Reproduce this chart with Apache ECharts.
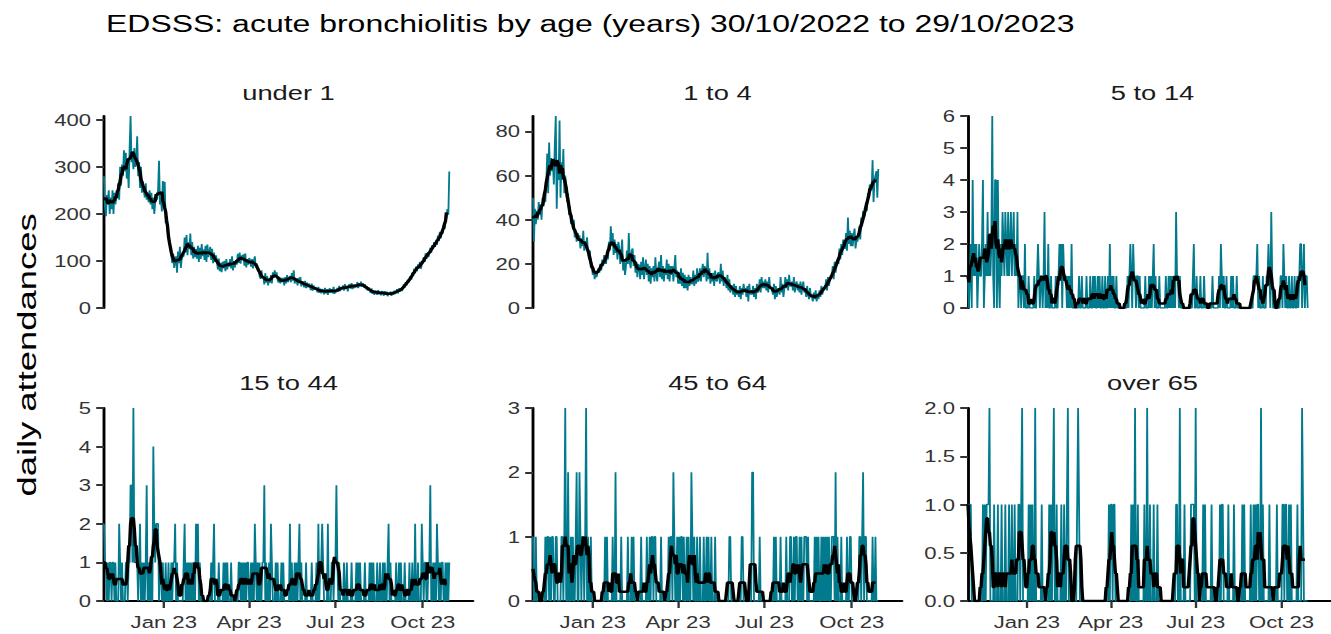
<!DOCTYPE html>
<html><head><meta charset="utf-8">
<script src="https://cdn.jsdelivr.net/npm/echarts@6/dist/echarts.min.js"></script>
<style>
html,body{margin:0;padding:0;background:#fff;overflow:hidden}
#wrap{width:1331px;height:634px;overflow:hidden;position:relative;background:#fff}
#chart{position:absolute;left:0;top:0;height:634px;transform-origin:0 0}
</style></head>
<body><div id="wrap"><div id="chart"></div></div>
<script>
// ---------------- DATA ----------------
const chartTitle = 'EDSSS: acute bronchiolitis by age (years) 30/10/2022 to 29/10/2023';
const yAxisTitle = 'daily attendances';
const startDate = '2022-10-30';
const axisEndDate = '2023-11-23';
const panelTitles = ['under 1', '1 to 4', '5 to 14', '15 to 44', '45 to 64', 'over 65'];
const xTickDates = ['2023-01-01', '2023-04-01', '2023-07-01', '2023-10-01'];
const xTickLabels = ['Jan 23', 'Apr 23', 'Jul 23', 'Oct 23'];
const yTicksUnder1 = [0, 100, 200, 300, 400];
const yTicks1to4 = [0, 20, 40, 60, 80];
const yTicks5to14 = [0, 1, 2, 3, 4, 5, 6];
const yTicks15to44 = [0, 1, 2, 3, 4, 5];
const yTicks45to64 = [0, 1, 2, 3];
const yTicksOver65 = [0, 0.5, 1, 1.5, 2];

// daily attendances, one row per week starting 30/10/2022
const under1 = [
280,215,195,240,225,250,200,
235,210,250,200,245,220,235,
240,265,230,300,260,305,280,
335,290,330,275,300,255,340,
408,310,330,295,340,300,315,
365,280,310,255,300,245,270,
250,235,265,230,245,225,250,
220,245,210,235,200,225,240,
230,250,313,220,235,205,270,
215,268,180,190,160,150,140,
130,110,95,115,85,100,110,
75,120,95,130,85,105,110,
110,150,118,155,112,140,125,
158,112,140,105,130,108,125,
105,132,98,128,104,136,110,
125,102,132,98,135,108,120,
130,102,126,95,118,98,112,
100,82,105,78,96,76,98,
84,100,78,104,82,96,88,
104,84,110,80,100,86,102,
92,115,96,118,94,112,104,
114,90,116,86,104,92,106,
102,88,104,84,100,110,86,
95,82,84,68,62,80,64,
66,50,74,54,68,48,62,
54,70,52,76,64,80,68,
76,60,54,66,52,64,55,
64,48,66,52,70,55,64,
68,55,74,58,80,52,60,
62,48,64,52,66,46,56,
55,44,58,42,54,44,52,
48,38,52,37,48,39,44,
42,33,45,32,41,31,40,
37,29,43,31,40,28,38,
42,32,40,31,45,30,37,
33,43,34,47,36,44,40,
48,37,51,40,47,35,48,
51,41,53,40,50,42,50,
44,55,42,53,46,56,45,
53,44,51,40,46,37,44,
40,32,42,30,38,28,36,
36,28,38,29,35,27,36,
34,26,36,28,35,25,32,
28,35,26,34,28,37,30,
33,40,31,42,35,41,36,
40,50,43,55,48,60,54,
58,68,60,75,68,84,74,
88,78,93,85,98,83,92,
96,108,98,116,105,118,108,
116,128,117,134,125,140,130,
142,134,154,142,162,148,158,
160,176,168,188,192,210,198,
290];

const age1to4 = [
50,30,45,38,44,40,48,
42,47,40,50,46,52,48,
56,70,52,75,60,68,62,
66,56,74,87,45,64,58,
85,50,66,58,72,52,60,
55,48,52,42,46,38,40,
36,40,32,35,30,34,31,
33,27,31,28,35,26,30,
28,32,25,22,26,18,20,
15,18,13,17,14,16,18,
16,20,17,22,19,24,21,
20,25,22,30,26,37,28,
34,24,31,25,29,22,30,
27,20,25,31,17,21,15,
19,26,20,34,21,18,26,
27,19,24,16,21,14,20,
19,13,21,15,23,13,18,
22,15,20,12,19,11,18,
14,19,12,23,15,12,18,
21,14,24,13,19,12,18,
15,22,13,20,12,19,15,
19,12,18,24,14,17,11,
16,11,18,10,16,9,15,
9,14,8,15,10,14,11,
11,17,10,15,11,18,12,
13,18,12,17,20,14,19,
17,12,25,13,18,11,15,
12,16,10,17,13,12,16,
16,11,20,12,17,10,14,
13,9,15,8,13,7,10,
10,6,11,5,10,6,8,
5,10,4,9,6,11,8,
9,5,10,3,11,6,8,
6,10,5,9,4,11,7,
8,13,7,14,9,12,9,
13,8,12,7,14,9,9,
8,6,11,4,10,5,8,
9,6,14,7,11,5,9,
14,9,13,8,15,10,10,
12,8,14,7,11,12,8,
11,7,12,6,10,12,7,
9,5,10,6,4,9,5,
5,3,7,4,8,3,6,
4,8,5,10,6,9,8,
9,13,8,14,10,13,14,
14,19,13,21,16,20,22,
20,27,22,29,24,31,27,
27,34,26,41,29,35,28,
34,28,33,36,27,31,30,
33,37,31,41,37,44,41,
42,48,44,52,50,56,53,
54,67,48,58,60,62,50,
63];

const age5to14 = [
1,0,1,2,0,4,1,
2,1,2,0,1,2,1,
1,2,4,0,1,2,1,
3,1,2,1,2,6,1,
0,4,4,0,4,1,0,
2,1,3,2,1,3,2,
1,3,1,2,3,1,2,
3,1,2,1,3,0,1,
1,0,1,1,0,2,0,
0,0,1,0,0,0,0,
0,1,0,0,1,2,1,
0,1,1,0,1,3,0,
1,0,2,0,0,1,0,
0,0,0,1,0,0,1,
2,1,2,0,2,1,1,
1,0,1,0,1,0,2,
0,0,0,0,0,0,0,
1,0,0,1,0,0,0,
0,1,0,0,0,1,0,
0,1,0,1,0,0,1,
0,1,0,0,1,0,0,
1,0,0,1,0,2,0,
1,0,1,0,0,1,0,
0,0,0,0,0,0,0,
0,0,0,1,0,1,2,
1,0,2,1,1,0,1,
1,0,1,0,0,0,0,
0,1,0,0,0,1,0,
1,0,1,2,0,1,0,
0,0,1,0,0,0,0,
0,0,1,0,0,1,0,
1,0,1,0,1,0,3,
1,1,0,1,0,0,0,
0,0,0,0,0,0,0,
0,0,0,1,2,0,0,
1,0,0,0,1,0,0,
0,1,0,0,0,0,0,
0,0,0,1,0,0,0,
0,0,0,1,0,2,1,
0,1,0,0,1,0,0,
0,0,1,0,1,0,0,
0,1,0,0,0,0,0,
0,0,0,0,0,0,0,
0,0,0,0,0,1,1,
1,1,2,0,1,0,0,
0,1,0,0,0,1,1,
2,1,0,3,1,0,0,
0,0,0,0,0,0,1,
1,0,2,1,0,1,0,
0,1,0,0,1,0,0,
1,0,0,1,0,1,2,
2,0,1,2,0,1,1,
0];

const age15to44 = [
2,1,1,0,1,0,1,
1,0,1,1,0,1,0,
0,0,2,1,0,1,0,
0,0,1,1,0,1,1,
3,3,1,5,1,1,1,
1,0,1,2,0,1,0,
1,0,1,3,0,1,0,
1,0,0,4,2,1,2,
2,2,0,1,1,0,1,
0,0,1,0,0,1,0,
0,1,0,1,1,2,0,
1,0,0,0,0,0,0,
1,2,0,1,0,1,0,
1,0,1,0,1,0,2,
1,2,0,1,0,0,0,
0,0,0,0,0,0,0,
0,1,0,1,2,0,0,
0,0,1,0,0,0,0,
1,0,1,0,1,0,0,
0,1,0,0,0,0,0,
0,0,1,1,0,1,0,
1,0,1,0,1,1,0,
0,1,0,1,0,2,1,
0,1,0,1,0,0,1,
1,3,0,1,0,0,1,
0,2,1,0,0,0,1,
0,1,0,0,0,1,0,
1,0,0,0,0,0,0,
2,0,1,0,0,1,0,
1,0,1,2,0,1,0,
0,0,0,1,0,0,0,
0,0,1,0,0,0,0,
1,0,2,0,1,1,2,
1,0,0,0,0,2,0,
0,0,1,1,0,1,1,
3,1,0,1,0,0,0,
0,1,0,0,1,0,0,
0,0,1,0,0,0,0,
1,0,1,0,1,0,0,
0,0,1,0,0,0,0,
1,0,1,0,1,0,0,
0,1,0,0,1,0,0,
1,0,1,0,0,1,2,
0,1,0,0,0,0,0,
1,0,0,1,0,1,0,
0,0,1,0,0,0,0,
1,0,0,1,0,0,2,
0,0,1,0,0,0,2,
1,0,1,1,0,0,1,
1,3,0,0,1,0,1,
0,2,1,0,1,0,1,
1,0,0,1,0,1,0,
1];

const age45to64 = [
1,0,0,1,0,0,0,
0,0,0,0,0,0,1,
0,1,1,0,1,0,1,
1,0,0,1,1,0,0,
0,0,1,1,0,1,3,
0,0,2,0,0,1,0,
1,0,0,1,2,0,0,
2,1,0,1,1,0,1,
3,0,1,0,0,1,0,
0,0,0,0,0,0,0,
0,0,0,0,0,0,1,
0,1,0,0,0,0,0,
1,0,0,2,0,0,0,
0,0,1,0,0,0,0,
0,0,1,0,0,0,1,
0,1,0,0,0,0,0,
0,0,1,0,0,0,0,
0,1,0,0,1,0,1,
1,0,1,1,0,0,0,
0,0,1,0,0,0,0,
0,0,0,1,0,1,1,
0,2,1,0,0,1,0,
1,0,1,1,0,1,0,
0,1,0,1,0,0,2,
1,0,1,0,0,1,0,
0,1,0,0,0,1,0,
0,1,0,1,0,0,1,
0,0,0,1,0,0,0,
0,0,0,0,0,0,0,
0,0,0,0,1,1,0,
0,0,0,0,0,0,0,
0,0,0,1,1,0,0,
0,0,0,0,0,0,0,
2,2,0,0,0,0,0,
0,1,0,0,0,0,0,
0,0,0,0,0,0,0,
0,0,1,0,1,0,0,
0,0,1,0,0,0,0,
0,1,0,0,0,1,1,
0,0,1,0,1,1,0,
0,1,0,1,0,0,1,
1,1,0,1,0,0,0,
0,0,0,1,0,1,0,
1,0,0,1,0,1,0,
1,0,1,0,1,0,0,
1,1,1,0,2,0,1,
0,0,0,1,0,0,0,
0,0,1,0,0,1,1,
0,0,0,0,0,0,0,
0,1,1,0,1,2,0,
1,1,0,0,0,0,0,
0,1,0,0,1,0,0,
0];

const ageOver65 = [
1,1,1,1,0,0,0,
0,0,0,0,0,0,0,
0,0,1,0,1,0,1,
1,1,2,0,0,0,0,
1,0,0,0,1,0,0,
0,1,0,0,0,1,0,
0,0,1,0,0,1,0,
0,1,0,0,0,1,1,
0,1,2,0,0,0,0,
0,0,1,0,1,0,1,
0,0,2,0,0,0,0,
0,0,1,0,0,0,0,
0,0,0,1,0,1,0,
1,2,0,0,1,0,0,
0,0,1,0,0,1,0,
0,1,2,0,0,0,0,
0,0,0,0,0,1,2,
1,0,0,0,0,0,0,
0,0,0,0,0,0,0,
0,0,0,0,0,0,0,
0,0,0,0,0,0,0,
0,0,0,0,1,0,1,
1,0,1,1,0,0,0,
0,0,0,0,0,0,0,
0,0,0,0,0,0,0,
1,0,1,0,2,0,0,
1,0,0,0,0,0,0,
1,0,0,2,0,0,1,
0,0,0,1,0,0,0,
1,0,0,0,0,0,0,
0,0,0,0,0,0,0,
0,0,0,0,0,0,1,
1,0,0,2,0,0,0,
0,1,0,0,0,0,0,
0,1,1,1,1,0,2,
0,0,0,0,0,0,0,
1,0,1,0,0,0,0,
0,0,1,0,0,0,0,
0,0,0,0,1,0,1,
1,0,0,0,0,0,1,
0,0,0,0,0,1,0,
0,0,0,0,0,0,0,
1,0,1,0,0,0,0,
0,0,1,0,0,1,0,
1,0,1,1,0,0,2,
0,1,0,0,0,0,0,
0,1,0,0,0,0,0,
0,0,1,0,0,0,0,
0,1,1,0,1,1,0,
0,1,0,1,0,0,0,
0,0,0,1,0,0,0,
0,2,1,0,0,0,0,
0];

const panelData = [under1, age1to4, age5to14, age15to44, age45to64, ageOver65];
const panelTicks = [yTicksUnder1, yTicks1to4, yTicks5to14, yTicks15to44, yTicks45to64, yTicksOver65];

// ---------------- LAYOUT ----------------
const SX = 1.3;                 // horizontal stretch of the whole picture
const W = 1331 / SX, H = 634;
const FONT = '"Liberation Sans", Arial, sans-serif';
const colLeft = [104, 533, 968];
const panelW = 369;
const rowTop = [116, 408];
const rowH = [192, 193];
const TEAL = '#007A8C';

const el = document.getElementById('chart');
el.style.width = W + 'px';
el.style.transform = 'scaleX(' + SX + ')';

const DAY = 86400000;
const dayIndex = d => Math.round((Date.parse(d) - Date.parse(startDate)) / DAY);
const xTickIdx = xTickDates.map(dayIndex);
const xMax = dayIndex(axisEndDate);

function roll7(a) {
  const out = [];
  for (let i = 0; i < a.length - 3; i++) {
    let s = 0, n = 0;
    for (let j = Math.max(0, i - 3); j <= i + 3; j++) { s += a[j]; n++; }
    out.push([i, s / n]);
  }
  return out;
}

const grids = [], xAxes = [], yAxes = [], series = [], graphics = [];
panelData.forEach((vals, i) => {
  const row = Math.floor(i / 3), col = i % 3;
  const bottom = row === 1;
  grids.push({ left: colLeft[col] / SX, top: rowTop[row], width: panelW / SX, height: rowH[row], containLabel: false });
  xAxes.push({
    gridIndex: i, type: 'value', min: 0, max: xMax,
    axisLine: { show: bottom, onZero: false, lineStyle: { color: '#000', width: 2.2 } },
    axisTick: { show: bottom, length: 7, customValues: xTickIdx, lineStyle: { color: '#333', width: 1.8 } },
    axisLabel: { show: bottom, customValues: xTickIdx, margin: 12, fontSize: 17, color: '#333', fontFamily: FONT,
      formatter: v => xTickLabels[xTickIdx.indexOf(v)] || '' },
    splitLine: { show: false }
  });
  const ticks = panelTicks[i];
  const dec = ticks.some(t => t % 1 !== 0);
  yAxes.push({
    gridIndex: i, type: 'value', min: 0, max: Math.max(...vals),
    axisLine: { show: true, onZero: false, lineStyle: { color: '#000', width: 2.2 } },
    axisTick: { show: true, length: 6, customValues: ticks, lineStyle: { color: '#333', width: 2 } },
    axisLabel: { customValues: ticks, margin: 10, fontSize: 17, color: '#333', fontFamily: FONT,
      formatter: v => dec ? Number(v).toFixed(1) : String(v) },
    splitLine: { show: false }
  });
  series.push({
    type: 'line', xAxisIndex: i, yAxisIndex: i, data: vals.map((v, k) => [k, v]),
    symbol: 'none', lineStyle: { color: TEAL, width: 1.4 }, silent: true, z: 2
  });
  series.push({
    type: 'line', xAxisIndex: i, yAxisIndex: i, data: roll7(vals),
    symbol: 'none', lineStyle: { color: '#000', width: 2.6 }, silent: true, z: 3
  });
  graphics.push({
    type: 'text', x: (colLeft[col] + panelW / 2) / SX, y: bottom ? 383 : 93,
    style: { text: panelTitles[i], font: '21px ' + FONT, fill: '#1a1a1a', align: 'center', verticalAlign: 'middle' }
  });
});

graphics.push({
  type: 'text', x: 106 / SX, y: 23.5,
  style: { text: chartTitle, font: '24.6px ' + FONT, fill: '#000', align: 'left', verticalAlign: 'middle' }
});
graphics.push({
  type: 'text', x: 27 / SX, y: 355, rotation: Math.PI / 2, scaleX: 1.4, scaleY: 1 / SX,
  style: { text: yAxisTitle, font: '26px ' + FONT, fill: '#000', align: 'center', verticalAlign: 'middle' }
});

const chart = echarts.init(el, null, { renderer: 'svg', width: W, height: H });
chart.setOption({
  animation: false,
  backgroundColor: '#fff',
  grid: grids,
  xAxis: xAxes,
  yAxis: yAxes,
  series: series,
  graphic: { elements: graphics }
});
</script>
</body></html>
